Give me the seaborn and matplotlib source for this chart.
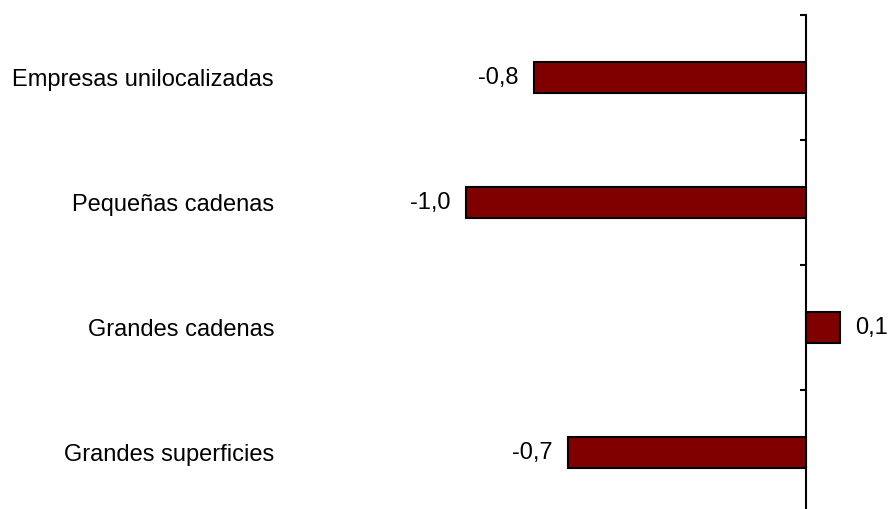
import matplotlib
matplotlib.use("Agg")
import matplotlib.pyplot as plt
import pandas as pd
import seaborn as sns

categories = ["Empresas unilocalizadas", "Pequeñas cadenas", "Grandes cadenas", "Grandes superficies"]
values = [-0.8, -1.0, 0.1, -0.7]
value_labels = ["-0,8", "-1,0", "0,1", "-0,7"]

BAR_COLOR = "#800000"

sns.set_theme(style="white")
plt.rcParams["font.family"] = ["Liberation Sans", "DejaVu Sans"]

df = pd.DataFrame({"cat": categories, "val": values})

fig = plt.figure(figsize=(8.88, 5.09), dpi=100)
ax = fig.add_axes([0.0, 0.9705 - 0.9823, 1.0, 0.9823])

sns.barplot(data=df, x="val", y="cat", orient="h", color=BAR_COLOR,
            edgecolor="black", linewidth=1.5, width=0.25, saturation=1, ax=ax)

ax.set_xlim(-806 / 340, 82 / 340)
ax.set_ylim(3.5, -0.5)

for side in ("top", "right", "bottom"):
    ax.spines[side].set_visible(False)
ax.spines["left"].set_position(("data", 0))
ax.spines["left"].set_linewidth(1.5)
ax.spines["left"].set_color("black")

ax.set_xticks([])
ax.set_yticks(range(len(categories)))
ax.set_yticklabels(categories, fontsize=17, color="black")
ax.set_yticks([-0.5, 0.5, 1.5, 2.5, 3.5], minor=True)
ax.tick_params(axis="y", which="major", length=0, pad=532 * 0.72)
ax.tick_params(axis="y", which="minor", left=True, direction="out",
               length=4.5, width=1.5, color="black")
ax.set_xlabel("")
ax.set_ylabel("")

ax.bar_label(ax.containers[0], labels=value_labels, padding=11, fontsize=17, color="black")

fig.savefig("out.png", dpi=100)
